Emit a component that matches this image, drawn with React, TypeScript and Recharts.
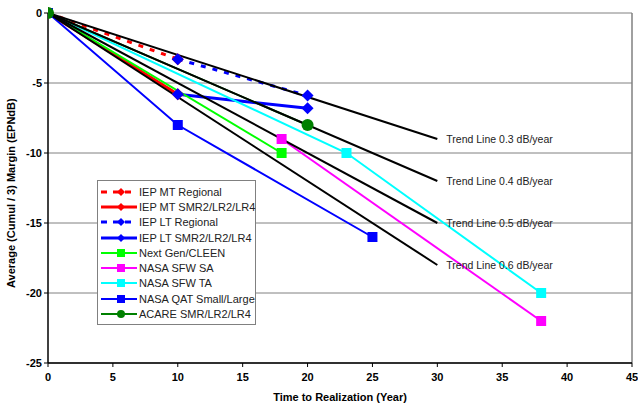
import React from 'react'
import {
  LineChart, Line, XAxis, YAxis, CartesianGrid, Legend, ReferenceLine,
} from 'recharts'

// --- data (years, margin in EPNdB) ---
const xTicks = [0, 5, 10, 15, 20, 25, 30, 35, 40, 45]
const yTicks = [-25, -20, -15, -10, -5, 0]

const iepMtRegional = [{ x: 0, y: 0 }, { x: 10, y: -3.3 }]
const iepMtSmr = [{ x: 0, y: 0 }, { x: 10, y: -5.8 }]
const iepLtRegional = [{ x: 10, y: -3.3 }, { x: 20, y: -5.9 }]
const iepLtSmr = [{ x: 10, y: -5.8 }, { x: 20, y: -6.8 }]
const nextGen = [{ x: 0, y: 0 }, { x: 18, y: -10 }]
const nasaSfwSa = [{ x: 18, y: -9 }, { x: 38, y: -22 }]
const nasaSfwTa = [{ x: 0, y: 0 }, { x: 23, y: -10 }, { x: 38, y: -20 }]
const nasaQat = [{ x: 0, y: 0 }, { x: 10, y: -8 }, { x: 25, y: -16 }]
const acare = [{ x: 0, y: 0 }, { x: 20, y: -8 }]

const trendRates = [0.3, 0.4, 0.5, 0.6]
const trendEnd = 30
const trendLines = trendRates.map((r) => [{ x: 0, y: 0 }, { x: trendEnd, y: -r * trendEnd }])

type Shape = 'diamond' | 'square' | 'circle'

const series: { name: string; data: { x: number; y: number }[]; color: string; width: number; dash?: string; shape: Shape; size: number }[] = [
  { name: 'IEP MT Regional', data: iepMtRegional, color: '#FF0000', width: 3, dash: '5 7', shape: 'diamond', size: 6 },
  { name: 'IEP MT SMR2/LR2/LR4', data: iepMtSmr, color: '#FF0000', width: 3, shape: 'diamond', size: 6 },
  { name: 'IEP LT Regional', data: iepLtRegional, color: '#0000FF', width: 3, dash: '5 7', shape: 'diamond', size: 6 },
  { name: 'IEP LT SMR2/LR2/LR4', data: iepLtSmr, color: '#0000FF', width: 3, shape: 'diamond', size: 6 },
  { name: 'Next Gen/CLEEN', data: nextGen, color: '#00FF00', width: 2, shape: 'square', size: 5 },
  { name: 'NASA SFW SA', data: nasaSfwSa, color: '#FF00FF', width: 2, shape: 'square', size: 5 },
  { name: 'NASA SFW TA', data: nasaSfwTa, color: '#00FFFF', width: 2, shape: 'square', size: 5 },
  { name: 'NASA QAT Small/Large', data: nasaQat, color: '#0000FF', width: 2, shape: 'square', size: 5 },
  { name: 'ACARE SMR/LR2/LR4', data: acare, color: '#008000', width: 2, shape: 'circle', size: 6 },
]

const font = 'Arial, "Liberation Sans", sans-serif'

function marker(shape: Shape, color: string, size: number, cx: number, cy: number, key?: any) {
  if (shape === 'square') {
    return <rect key={key} x={cx - size} y={cy - size} width={size * 2} height={size * 2} fill={color} />
  }
  if (shape === 'circle') {
    return <circle key={key} cx={cx} cy={cy} r={size} fill={color} />
  }
  return (
    <polygon
      key={key}
      points={`${cx},${cy - size} ${cx + size},${cy} ${cx},${cy + size} ${cx - size},${cy}`}
      fill={color}
    />
  )
}

function makeDot(shape: Shape, color: string, size: number) {
  return (props: any) => {
    const { cx, cy, index } = props
    if (cx == null || cy == null) return <g key={index} />
    return marker(shape, color, size, cx, cy, index)
  }
}

function trendLabel(rate: number, last: number) {
  return (props: any) => {
    const { x, y, index } = props
    if (index !== last) return <g key={index} />
    return (
      <text key={index} x={x + 9} y={y + 4} fontSize={10.5} fill="#222" fontFamily={font}>
        {`Trend Line ${rate} dB/year`}
      </text>
    )
  }
}

function LegendBox() {
  return (
    <div
      style={{
        border: '1px solid #808080',
        background: '#fff',
        padding: '3px 4px 2px 2px',
        width: 159,
        boxSizing: 'border-box',
        fontFamily: font,
        fontSize: 11,
        color: '#222',
        textAlign: 'left',
      }}
    >
      {series.map((s) => (
        <div key={s.name} style={{ display: 'flex', alignItems: 'center', height: 15.3 }}>
          <svg width={38} height={14} style={{ flex: 'none' }}>
            <line
              x1={1} y1={7} x2={37} y2={7}
              stroke={s.color}
              strokeWidth={s.width}
              strokeDasharray={s.dash ? '6 6' : undefined}
            />
            {marker(s.shape, s.color, 4, 21, 7)}
          </svg>
          <span style={{ whiteSpace: 'nowrap', marginLeft: 1 }}>{s.name}</span>
        </div>
      ))}
    </div>
  )
}

export default function App() {
  return (
    <div style={{ position: 'absolute', left: 0, top: 0, background: '#fff' }}>
      <LineChart width={638} height={405} margin={{ top: 13, right: 6, bottom: 0, left: 0 }}>
        <CartesianGrid vertical={false} stroke="#808080" strokeWidth={1} />
        <XAxis
          type="number"
          dataKey="x"
          domain={[0, 45]}
          ticks={xTicks}
          allowDataOverflow
          height={42}
          tick={{ fontSize: 11, fontWeight: 'bold', fill: '#000', fontFamily: font }}
          tickLine={{ stroke: '#000' }}
          tickSize={4}
          tickMargin={6}
          axisLine={{ stroke: '#000', strokeWidth: 1.5 }}
          label={{ value: 'Time to Realization (Year)', position: 'insideBottom', offset: 4, fontSize: 11, fontWeight: 'bold', fill: '#000', fontFamily: font }}
        />
        <YAxis
          type="number"
          dataKey="y"
          domain={[-25, 0]}
          ticks={yTicks}
          width={48}
          tick={{ fontSize: 11, fontWeight: 'bold', fill: '#000', fontFamily: font }}
          tickLine={{ stroke: '#000' }}
          tickSize={4}
          axisLine={{ stroke: '#000', strokeWidth: 1.5 }}
          label={{ value: 'Average (Cumul / 3) Margin  (EPNdB)', angle: -90, position: 'insideLeft', offset: 11, dy: 100, fontSize: 11, fontWeight: 'bold', fill: '#000', fontFamily: font }}
        />
        <ReferenceLine x={45} stroke="#808080" strokeWidth={1.5} />
        {/* series lines first, then trend lines on top, then markers */}
        {series.map((s) => (
          <Line
            key={s.name}
            name={s.name}
            data={s.data}
            dataKey="y"
            type="linear"
            stroke={s.color}
            strokeWidth={s.width}
            strokeDasharray={s.dash}
            dot={false}
            activeDot={false}
            isAnimationActive={false}
          />
        ))}
        {trendLines.map((d, i) => (
          <Line
            key={`trend-${i}`}
            data={d}
            dataKey="y"
            type="linear"
            stroke="#000"
            strokeWidth={2}
            dot={false}
            activeDot={false}
            legendType="none"
            label={trendLabel(trendRates[i], d.length - 1)}
            isAnimationActive={false}
          />
        ))}
        {series.map((s) => (
          <Line
            key={`${s.name}-dots`}
            data={s.data}
            dataKey="y"
            type="linear"
            stroke="none"
            dot={makeDot(s.shape, s.color, s.size)}
            activeDot={false}
            legendType="none"
            isAnimationActive={false}
          />
        ))}
        <Legend
          layout="vertical"
          align="center"
          verticalAlign="middle"
          content={() => <LegendBox />}
          wrapperStyle={{ left: 97, top: 180, width: 160 }}
        />
      </LineChart>
    </div>
  )
}
